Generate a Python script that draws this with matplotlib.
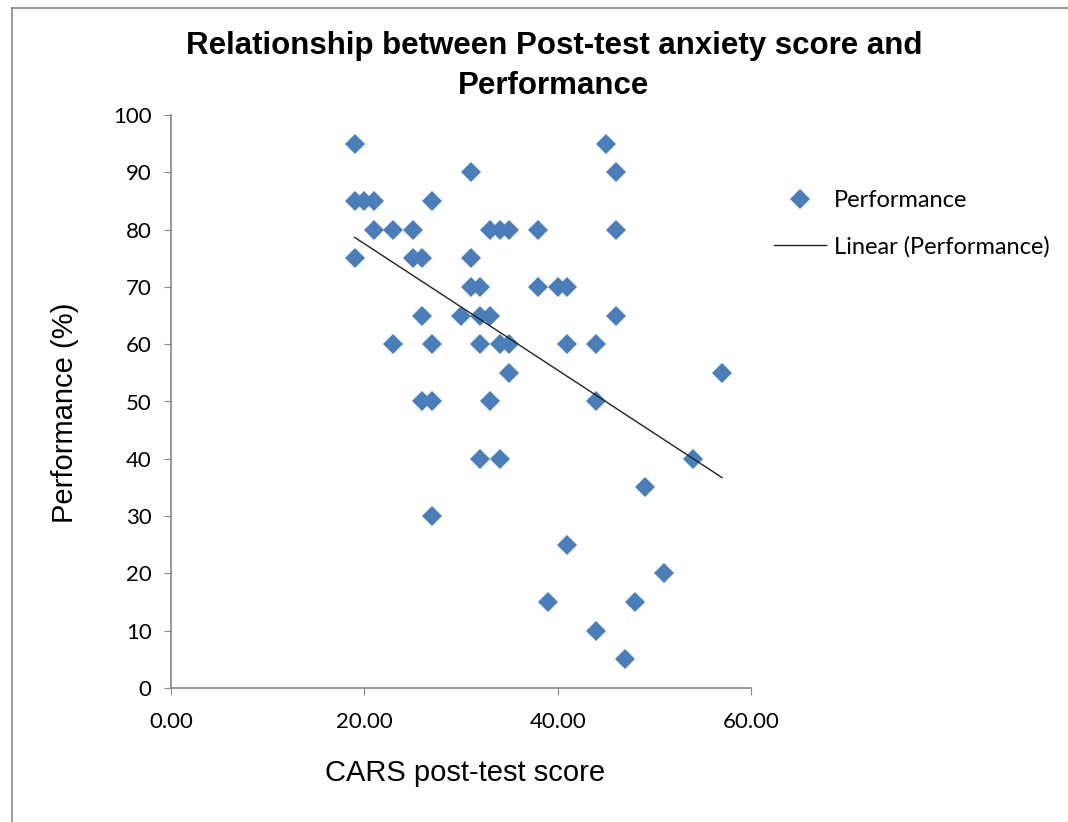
import numpy as np
import matplotlib
matplotlib.use("Agg")
import matplotlib.pyplot as plt
from matplotlib.lines import Line2D
from matplotlib.ticker import FormatStrFormatter

# -----------------------------
# Data
# -----------------------------
cars_score = [19, 19, 20, 21, 21, 19, 23, 25, 25, 26, 27, 26, 23, 27, 26, 27, 27,
              31, 31, 31, 32, 30, 32, 33, 32, 33, 34, 35, 34, 35, 35, 33, 32, 34,
              38, 38, 40, 41, 41, 44, 44, 41, 39, 44,
              45, 46, 46, 46, 47, 48, 49, 51, 54, 57]
performance = [95, 85, 85, 85, 80, 75, 80, 80, 75, 75, 85, 65, 60, 60, 50, 50, 30,
               90, 75, 70, 70, 65, 65, 65, 60, 80, 80, 80, 60, 60, 55, 50, 40, 40,
               80, 70, 70, 70, 60, 60, 50, 25, 15, 10,
               95, 90, 80, 65, 5, 15, 35, 20, 40, 55]

x_ticks = [0, 20, 40, 60]
y_ticks = list(range(0, 101, 10))

title = "Relationship between Post-test anxiety score and\nPerformance"
x_label = "CARS post-test score"
y_label = "Performance (%)"
series_name = "Performance"
trend_name = "Linear (Performance)"

blue = "#4A7EBB"
W, H = 1068, 822

# -----------------------------
# Figure
# -----------------------------
plt.rcParams['font.family'] = ['Liberation Sans', 'DejaVu Sans']
fig = plt.figure(figsize=(W / 100, H / 100), dpi=100)
ax = fig.add_axes([171 / W, 1 - 688 / H, (751 - 171) / W, (688 - 115) / H])

ax.plot(cars_score, performance, linestyle='none', marker='D', markersize=10,
        color=blue, markeredgewidth=0)

# linear trend line over the data range
slope, icpt = np.polyfit(cars_score, performance, 1)
xs = np.array([min(cars_score), max(cars_score)])
ax.plot(xs, slope * xs + icpt, color='#222222', linewidth=1)

ax.set_xlim(0, 60)
ax.set_ylim(0, 100)
ax.set_xticks(x_ticks)
ax.set_yticks(y_ticks)
ax.xaxis.set_major_formatter(FormatStrFormatter('%.2f'))
for s in ['top', 'right']:
    ax.spines[s].set_visible(False)
for s in ['left', 'bottom']:
    ax.spines[s].set_color('#868686')
    ax.spines[s].set_linewidth(1.2)
ax.tick_params(direction='out', length=5, color='#868686', pad=9)
ax.tick_params(axis='x', pad=12)
for lbl in ax.get_xticklabels() + ax.get_yticklabels():
    lbl.set_fontfamily('Lato')
    lbl.set_fontsize(16)

fig.text(554 / W, 1 - 66 / H, title, ha='center', va='center',
         fontsize=22.5, fontweight='bold', linespacing=1.45)
fig.text(465 / W, 1 - 773 / H, x_label, ha='center', va='center', fontsize=21)
fig.text(65 / W, 1 - 413 / H, y_label, ha='center', va='center', fontsize=21,
         rotation=90)

# legend, frameless, right of the plot
handles = [Line2D([], [], linestyle='none', marker='D', markersize=10, color=blue,
                  markeredgewidth=0),
           Line2D([], [], color='#222222', linewidth=1)]
fig.legend(handles, [series_name, trend_name], loc='upper left',
           bbox_to_anchor=(762 / W, 1 - 178 / H), frameon=False,
           prop={'family': 'Lato', 'size': 17}, handlelength=2.2,
           handletextpad=0.35, labelspacing=1.05, borderpad=0)

# outer chart border
fig.add_artist(Line2D([12 / W, 12 / W], [0, 1 - 8 / H], transform=fig.transFigure,
                      color='#868686', linewidth=1.2))
fig.add_artist(Line2D([12 / W, 1], [1 - 8 / H, 1 - 8 / H], transform=fig.transFigure,
                      color='#868686', linewidth=1.2))

fig.savefig("out.png", dpi=100)
